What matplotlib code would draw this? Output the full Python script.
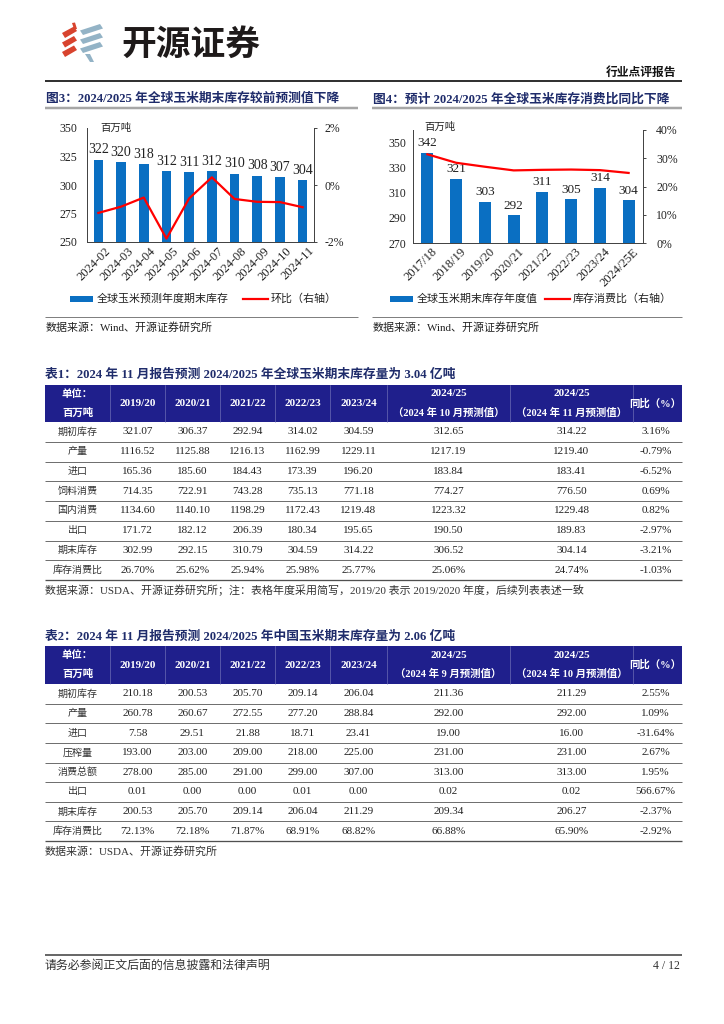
import matplotlib
matplotlib.use('Agg')
import matplotlib.pyplot as plt
from matplotlib.patches import Rectangle, Polygon
from matplotlib.lines import Line2D
import matplotlib.transforms as mtrans
import numpy as np

plt.rcParams['font.family'] = ['Liberation Serif', 'Noto Sans CJK SC']
plt.rcParams['axes.unicode_minus'] = False

W, H = 724, 1024
NAVY_T = '#1F2C6B'
HEAD = '#1F1F8C'
BLUE = '#0A6FC2'
RED = '#FF0000'
TXT = '#222222'

# ---------------- data ----------------
fig3_months = ['2024-02', '2024-03', '2024-04', '2024-05', '2024-06',
               '2024-07', '2024-08', '2024-09', '2024-10', '2024-11']
fig3_stock = [322, 320, 318, 312, 311, 312, 310, 308, 307, 304]
fig3_mom = [-0.98, -0.76, -0.44, -1.88, -0.47, 0.27, -0.49, -0.59, -0.60, -0.78]

fig4_years = ['2017/18', '2018/19', '2019/20', '2020/21', '2021/22',
              '2022/23', '2023/24', '2024/25E']
fig4_stock = [342, 321, 303, 292, 311, 305, 314, 304]
fig4_ratio = [31.4, 28.4, 27.0, 25.7, 25.9, 26.0, 25.8, 24.8]

t1_title = '表1：2024 年 11 月报告预测 2024/2025 年全球玉米期末库存量为 3.04 亿吨'
t1_years = ['2019/20', '2020/21', '2021/22', '2022/23', '2023/24']
t1_fc = ['（2024 年 10 月预测值）', '（2024 年 11 月预测值）']
t1_labels = ['期初库存', '产量', '进口', '饲料消费', '国内消费', '出口', '期末库存', '库存消费比']
t1_values = [
    ['321.07', '306.37', '292.94', '314.02', '304.59', '312.65', '314.22', '3.16%'],
    ['1116.52', '1125.88', '1216.13', '1162.99', '1229.11', '1217.19', '1219.40', '-0.79%'],
    ['165.36', '185.60', '184.43', '173.39', '196.20', '183.84', '183.41', '-6.52%'],
    ['714.35', '722.91', '743.28', '735.13', '771.18', '774.27', '776.50', '0.69%'],
    ['1134.60', '1140.10', '1198.29', '1172.43', '1219.48', '1223.32', '1229.48', '0.82%'],
    ['171.72', '182.12', '206.39', '180.34', '195.65', '190.50', '189.83', '-2.97%'],
    ['302.99', '292.15', '310.79', '304.59', '314.22', '306.52', '304.14', '-3.21%'],
    ['26.70%', '25.62%', '25.94%', '25.98%', '25.77%', '25.06%', '24.74%', '-1.03%'],
]
t1_source = '数据来源：USDA、开源证券研究所；注：表格年度采用简写，2019/20 表示 2019/2020 年度，后续列表表述一致'

t2_title = '表2：2024 年 11 月报告预测 2024/2025 年中国玉米期末库存量为 2.06 亿吨'
t2_years = ['2019/20', '2020/21', '2021/22', '2022/23', '2023/24']
t2_fc = ['（2024 年 9 月预测值）', '（2024 年 10 月预测值）']
t2_labels = ['期初库存', '产量', '进口', '压榨量', '消费总额', '出口', '期末库存', '库存消费比']
t2_values = [
    ['210.18', '200.53', '205.70', '209.14', '206.04', '211.36', '211.29', '2.55%'],
    ['260.78', '260.67', '272.55', '277.20', '288.84', '292.00', '292.00', '1.09%'],
    ['7.58', '29.51', '21.88', '18.71', '23.41', '19.00', '16.00', '-31.64%'],
    ['193.00', '203.00', '209.00', '218.00', '225.00', '231.00', '231.00', '2.67%'],
    ['278.00', '285.00', '291.00', '299.00', '307.00', '313.00', '313.00', '1.95%'],
    ['0.01', '0.00', '0.00', '0.01', '0.00', '0.02', '0.02', '566.67%'],
    ['200.53', '205.70', '209.14', '206.04', '211.29', '209.34', '206.27', '-2.37%'],
    ['72.13%', '72.18%', '71.87%', '68.91%', '68.82%', '66.88%', '65.90%', '-2.92%'],
]
t2_source = '数据来源：USDA、开源证券研究所'

# ---------------- figure ----------------
fig = plt.figure(figsize=(W / 100, H / 100), dpi=100)
page = fig.add_axes([0, 0, 1, 1])
page.set_xlim(0, W)
page.set_ylim(H, 0)
page.axis('off')


def rect(l, t, r, b):
    return [l / W, 1 - b / H, (r - l) / W, (b - t) / H]


def txt(x, y, s, size=7.5, weight='normal', color=TXT, ha='left', va='center'):
    page.text(x, y, s, fontsize=size, fontweight=weight, color=color, ha=ha, va=va)


def hline(x0, x1, y, lw_px, color):
    page.add_line(Line2D([x0, x1], [y, y], lw=lw_px * 0.72, color=color, solid_capstyle='butt'))


# ---- logo ----
LOGO_RED = '#D8432E'
LOGO_BLUE = '#93B3C6'
for i in range(3):
    yc = 28 + 9.5 * i
    page.add_patch(Polygon([(62, yc + 5), (74, yc - 1.5), (77, yc + 3), (65, yc + 10)],
                           closed=True, color=LOGO_RED, lw=0))
page.add_patch(Polygon([(72, 23), (75, 22.5), (77, 29), (74, 29)], closed=True, color=LOGO_RED, lw=0))
for i in range(3):
    yc = 27 + 9 * i
    page.add_patch(Polygon([(80, yc + 3.5), (100, yc - 3), (103, yc + 1.5), (83, yc + 8)],
                           closed=True, color=LOGO_BLUE, lw=0))
page.add_patch(Polygon([(85, 54), (90, 54), (94, 62), (90, 62)], closed=True, color=LOGO_BLUE, lw=0))
page.text(121, 44, '开源证券', fontsize=25, fontweight='bold', color='#1E1A1A',
          ha='left', va='center', family='Noto Sans CJK SC')

txt(676, 73, '行业点评报告', size=8.5, weight='bold', color='#111111', ha='right')
hline(45, 682, 80.5, 2.0, '#333333')

# ---- chart titles ----
txt(46, 99, '图3：2024/2025 年全球玉米期末库存较前预测值下降', size=9.2, weight='bold', color=NAVY_T)
txt(373, 99, '图4：预计 2024/2025 年全球玉米库存消费比同比下降', size=9.2, weight='bold', color=NAVY_T)
hline(45, 358, 108, 2.5, '#A6A6A6')
hline(372, 682, 108, 2.5, '#A6A6A6')


def style_axes(ax, axr):
    for a in (ax, axr):
        a.spines['top'].set_visible(False)
        for s in ('left', 'right', 'bottom'):
            a.spines[s].set_color('#444444')
            a.spines[s].set_linewidth(0.7)
    ax.tick_params(axis='y', length=0, pad=7, labelsize=8.5, colors='#222222')
    ax.tick_params(axis='x', length=0, pad=2, labelsize=9, colors='#222222')
    axr.tick_params(axis='y', length=2.5, width=0.7, pad=5, labelsize=8.5, colors='#222222', direction='out')
    axr.tick_params(axis='y', color='#444444')


def shift_xlabels(ax, dx_px):
    off = mtrans.ScaledTranslation(dx_px / 100, 0, fig.dpi_scale_trans)
    for lab in ax.get_xticklabels():
        lab.set_transform(lab.get_transform() + off)
        lab.set_rotation(45)
        lab.set_ha('right')
        lab.set_va('top')
        lab.set_rotation_mode('anchor')


# ---- chart 3 ----
ax1 = fig.add_axes(rect(87, 128, 314, 242))
x1 = np.arange(len(fig3_months))
bars1 = ax1.bar(x1, fig3_stock, width=0.42, color=BLUE, zorder=2)
ax1.set_xlim(-0.5, len(x1) - 0.5)
ax1.set_ylim(250, 350)
ax1.set_yticks(np.arange(250, 351, 25))
ax1.set_xticks(x1)
ax1.set_xticklabels(fig3_months)
for b, v in zip(bars1, fig3_stock):
    ax1.annotate(str(v), (b.get_x() + b.get_width() / 2, v), xytext=(0, 2.5),
                 textcoords='offset points', ha='center', va='bottom', fontsize=10, color='#222222')
ax1r = ax1.twinx()
ax1r.plot(x1, fig3_mom, color=RED, lw=1.6, zorder=3)
ax1r.set_ylim(-2, 2)
ax1r.set_yticks([-2, 0, 2])
ax1r.set_yticklabels(['-2%', '0%', '2%'])
style_axes(ax1, ax1r)
shift_xlabels(ax1, 6)
ax1.text(0.06, 1.0, '百万吨', transform=ax1.transAxes, fontsize=7.5, ha='left', va='center', color='#222222')

# ---- chart 4 ----
ax2 = fig.add_axes(rect(413, 130, 643, 243))
x2 = np.arange(len(fig4_years))
bars2 = ax2.bar(x2, fig4_stock, width=0.42, color=BLUE, zorder=2)
ax2.set_xlim(-0.5, len(x2) - 0.5)
ax2.set_ylim(270, 360)
ax2.set_yticks(np.arange(270, 351, 20))
ax2.set_xticks(x2)
ax2.set_xticklabels(fig4_years)
for b, v in zip(bars2, fig4_stock):
    ax2.annotate(str(v), (b.get_x() + b.get_width() / 2, v), xytext=(0, 2.5),
                 textcoords='offset points', ha='center', va='bottom', fontsize=9.5, color='#222222')
ax2r = ax2.twinx()
ax2r.plot(x2, fig4_ratio, color=RED, lw=1.6, zorder=3)
ax2r.set_ylim(0, 40)
ax2r.set_yticks(np.arange(0, 41, 10))
ax2r.set_yticklabels([f'{v}%' for v in range(0, 41, 10)])
style_axes(ax2, ax2r)
ax2.tick_params(axis='y', pad=5)
ax2r.tick_params(axis='y', pad=7)
shift_xlabels(ax2, 4)
ax2.text(0.05, 1.03, '百万吨', transform=ax2.transAxes, fontsize=7.5, ha='left', va='center', color='#222222')

# ---- legends ----
LEG_Y = 299
page.add_patch(Rectangle((70, LEG_Y - 3), 23, 6, color=BLUE, lw=0))
txt(97, LEG_Y, '全球玉米预测年度期末库存', size=7.9)
page.add_line(Line2D([243, 268], [LEG_Y, LEG_Y], color=RED, lw=1.6))
txt(271, LEG_Y, '环比（右轴）', size=7.9)

page.add_patch(Rectangle((390, LEG_Y - 3), 23, 6, color=BLUE, lw=0))
txt(417, LEG_Y, '全球玉米期末库存年度值', size=7.9)
page.add_line(Line2D([545, 570], [LEG_Y, LEG_Y], color=RED, lw=1.6))
txt(573, LEG_Y, '库存消费比（右轴）', size=7.9)

hline(45, 358, 317, 1.0, '#808080')
hline(372, 682, 317, 1.0, '#808080')
txt(46, 327, '数据来源：Wind、开源证券研究所', size=7.9)
txt(373, 327, '数据来源：Wind、开源证券研究所', size=7.9)

# ---- tables ----
EDGES = [45, 110, 165, 220, 275, 330, 387, 510, 633, 682]


def draw_table(title, title_y, hdr_top, hdr_bot, tbl_bot, years, fc, labels, values, source, source_y):
    txt(45, title_y, title, size=9.2, weight='bold', color=NAVY_T)
    page.add_patch(Rectangle((EDGES[0], hdr_top), EDGES[-1] - EDGES[0], hdr_bot - hdr_top,
                             color=HEAD, lw=0))
    for e in EDGES[1:-1]:
        page.add_line(Line2D([e, e], [hdr_top, hdr_bot], color='#8080C0', lw=0.4))
    cen = [(EDGES[i] + EDGES[i + 1]) / 2 for i in range(len(EDGES) - 1)]
    y1, y2, ym = hdr_top + 9, hdr_top + 28, (hdr_top + hdr_bot) / 2
    txt(cen[0], y1, '单位：', size=7.5, weight='bold', color='white', ha='center')
    txt(cen[0], y2, '百万吨', size=7.5, weight='bold', color='white', ha='center')
    for i, yv in enumerate(years):
        txt(cen[1 + i], ym, yv, size=8, weight='bold', color='white', ha='center')
    for j in range(2):
        txt(cen[6 + j], y1, '2024/25', size=8, weight='bold', color='white', ha='center')
        txt(cen[6 + j], y2, fc[j], size=7.5, weight='bold', color='white', ha='center')
    txt(cen[8] - 2, ym, '同比（%）', size=7.5, weight='bold', color='white', ha='center')
    n = len(labels)
    rh = (tbl_bot - hdr_bot) / n
    for i in range(n):
        yc = hdr_bot + (i + 0.5) * rh
        txt(cen[0], yc, labels[i], size=7.2, ha='center', color='#333333')
        for j, v in enumerate(values[i]):
            xc = cen[1 + j] if j < 7 else cen[8] - 2
            txt(xc, yc, v, size=8, ha='center', color='#222222')
        yl = hdr_bot + (i + 1) * rh
        hline(EDGES[0], EDGES[-1], yl, 1.0 if i < n - 1 else 1.3, '#707070' if i < n - 1 else '#505050')
    txt(45, source_y, source, size=7.9, color='#333333')


draw_table(t1_title, 375, 385, 422, 580, t1_years, t1_fc, t1_labels, t1_values, t1_source, 590)
draw_table(t2_title, 637, 646, 684, 841, t2_years, t2_fc, t2_labels, t2_values, t2_source, 851)

# ---- footer ----
hline(45, 682, 955, 1.6, '#444444')
txt(45, 966, '请务必参阅正文后面的信息披露和法律声明', size=8.6, color='#333333')
txt(680, 966, '4 / 12', size=8.5, color='#333333', ha='right')

fig.savefig('out.png', dpi=100)
